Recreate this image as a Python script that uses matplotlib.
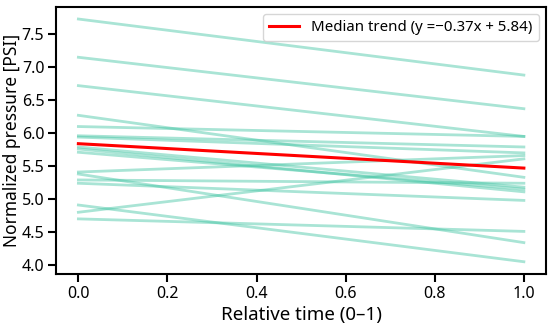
import numpy as np
import matplotlib
matplotlib.use("Agg")
import matplotlib.pyplot as plt

# start / end normalized pressure for each sample
starts = [7.73, 7.15, 6.72, 6.27, 6.10, 5.96, 5.94, 5.79, 5.76, 5.71,
          5.41, 5.38, 5.29, 5.24, 4.91, 4.80, 4.70]
ends = [6.88, 6.37, 5.95, 5.33, 5.95, 5.79, 5.70, 5.18, 5.11, 5.15,
        5.66, 4.34, 5.24, 4.98, 4.05, 5.61, 4.51]
t = [0.0, 1.0]
slope, intercept = -0.37, 5.84

plt.rcParams['font.family'] = ['Noto Sans', 'DejaVu Sans']

fig, ax = plt.subplots(figsize=(5.5, 3.28), dpi=100)
fig.subplots_adjust(left=0.102, right=0.993, top=0.979, bottom=0.165)

for s, e in zip(starts, ends):
    ax.plot(t, [s, e], color='#40c4a2', alpha=0.45, lw=2)

xt = np.array(t)
ax.plot(xt, slope * xt + intercept, color='red', lw=2.2,
        label='Median trend (y =\u22120.37x + 5.84)')

ax.set_xlabel('Relative time (0\u20131)', fontsize=13.5, labelpad=3)
ax.set_ylabel('Normalized pressure [PSI]', fontsize=12.5)
ax.yaxis.set_label_coords(-0.071, 0.5)
ax.set_yticks([4.0, 4.5, 5.0, 5.5, 6.0, 6.5, 7.0, 7.5])
ax.set_xticks([0.0, 0.2, 0.4, 0.6, 0.8, 1.0])
ax.tick_params(labelsize=11.5, length=6, width=1.5, pad=2.5)
for sp in ax.spines.values():
    sp.set_linewidth(1.5)
ax.legend(loc='upper right', fontsize=10.8)

fig.savefig('out.png')
